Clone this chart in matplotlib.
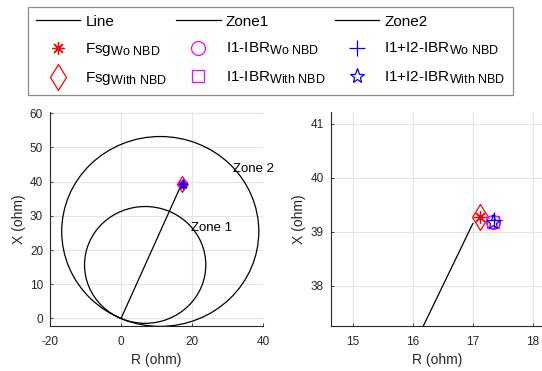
import matplotlib as mpl
import matplotlib.pyplot as plt
import matplotlib._mathtext as mt
from matplotlib.patches import Circle
from matplotlib.lines import Line2D

mpl.rcParams['font.family'] = ['Liberation Sans', 'DejaVu Sans']
mpl.rcParams['mathtext.fontset'] = 'custom'
mpl.rcParams['mathtext.rm'] = 'Liberation Sans'
mpl.rcParams['mathtext.it'] = 'Liberation Sans'
mpl.rcParams['axes.unicode_minus'] = False
# MATLAB-style subscripts are only slightly smaller than the base text
mt.SHRINK_FACTOR = 0.82

# protected line, origin -> line end (ohm)
line_r = [0.0, 17.0]
line_x = [0.0, 39.15]

# mho zones: centre R, centre X, radius
zone_names = ['Zone1', 'Zone2']
zone_cr = [6.8, 11.05]
zone_cx = [15.66, 25.45]
zone_rad = [17.08, 27.76]
zone_text = ['Zone 1', 'Zone 2']
zone_text_pos = [(19.6, 26.6), (31.6, 43.6)]

# apparent impedances seen by the relay
pt_labels = [r'Fsg$_{\rm Wo\ NBD}$', r'Fsg$_{\rm With\ NBD}$',
             r'I1-IBR$_{\rm Wo\ NBD}$', r'I1-IBR$_{\rm With\ NBD}$',
             r'I1+I2-IBR$_{\rm Wo\ NBD}$', r'I1+I2-IBR$_{\rm With\ NBD}$']
pt_r = [17.12, 17.12, 17.34, 17.34, 17.35, 17.34]
pt_x = [39.27, 39.27, 39.18, 39.18, 39.21, 39.18]
pt_marker = [(8, 2, 0), 'd', 'o', 's', '+', '*']
pt_color = ['red', 'red', 'magenta', 'magenta', 'blue', 'blue']
pt_size = [9, 13, 10, 8, 12, 11]

axcol = '#262626'

fig = plt.figure(figsize=(5.42, 3.71), dpi=100)
ax1 = fig.add_axes([0.0923, 0.1213, 0.393, 0.577])
ax2 = fig.add_axes([0.610, 0.1213, 0.393, 0.577])

handles = []
for ax, scale in ((ax1, 0.6), (ax2, 1.0)):
    h_line, = ax.plot(line_r, line_x, color='k', lw=0.9, zorder=3)
    for i in range(len(zone_names)):
        c = Circle((zone_cr[i], zone_cx[i]), zone_rad[i], fill=False, ec='k', lw=0.9, zorder=3)
        ax.add_patch(c)
    pts = []
    for i in range(len(pt_labels)):
        p, = ax.plot(pt_r[i], pt_x[i], linestyle='none', marker=pt_marker[i], ms=pt_size[i] * scale,
                     mfc='none', mec=pt_color[i], mew=0.9, zorder=4)
        pts.append(p)
    if ax is ax2:
        handles = [h_line] + pts

for i in range(len(zone_text)):
    ax1.text(zone_text_pos[i][0], zone_text_pos[i][1], zone_text[i], fontsize=9.5,
             ha='left', va='center')

ax1.set_xlim(-20, 40)
ax1.set_ylim(-2.2, 60.4)
ax1.set_xticks([-20, 0, 20, 40])
ax1.set_yticks([0, 10, 20, 30, 40, 50, 60])
ax2.set_xlim(14.63, 18.18)
ax2.set_ylim(37.25, 41.22)
ax2.set_xticks([15, 16, 17, 18])
ax2.set_yticks([38, 39, 40, 41])

for ax in (ax1, ax2):
    ax.spines['top'].set_visible(False)
    ax.spines['right'].set_visible(False)
    ax.spines['left'].set_color(axcol)
    ax.spines['bottom'].set_color(axcol)
    ax.spines['left'].set_linewidth(0.8)
    ax.spines['bottom'].set_linewidth(0.8)
    ax.tick_params(direction='in', length=2.5, width=0.6, colors=axcol, labelsize=8.5)
    ax.tick_params(axis='x', pad=7)
    ax.tick_params(axis='y', pad=5)
    ax.grid(True, color='#e3e3e3', lw=0.8)
    ax.set_axisbelow(True)
    ax.set_xlabel('R (ohm)', fontsize=10, color=axcol, labelpad=4)
    ax.set_ylabel('X (ohm)', fontsize=10, color=axcol, labelpad=3)

zone_h = [Line2D([], [], color='k', lw=0.9) for n in zone_names]
leg_handles = [handles[0], handles[1], handles[2],
               zone_h[0], handles[3], handles[4],
               zone_h[1], handles[5], handles[6]]
leg_labels = ['Line', pt_labels[0], pt_labels[1],
              zone_names[0], pt_labels[2], pt_labels[3],
              zone_names[1], pt_labels[4], pt_labels[5]]
leg = fig.legend(leg_handles, leg_labels, ncol=3, loc='upper left',
                 bbox_to_anchor=(28 / 542, 1 - 7 / 371), fontsize=11,
                 frameon=True, fancybox=False, edgecolor='#707070',
                 handlelength=2.9, handletextpad=0.35, columnspacing=0.6,
                 labelspacing=0.8, borderpad=0.5, borderaxespad=0)
leg.get_frame().set_linewidth(0.9)

plt.savefig('out.png', dpi=100)
